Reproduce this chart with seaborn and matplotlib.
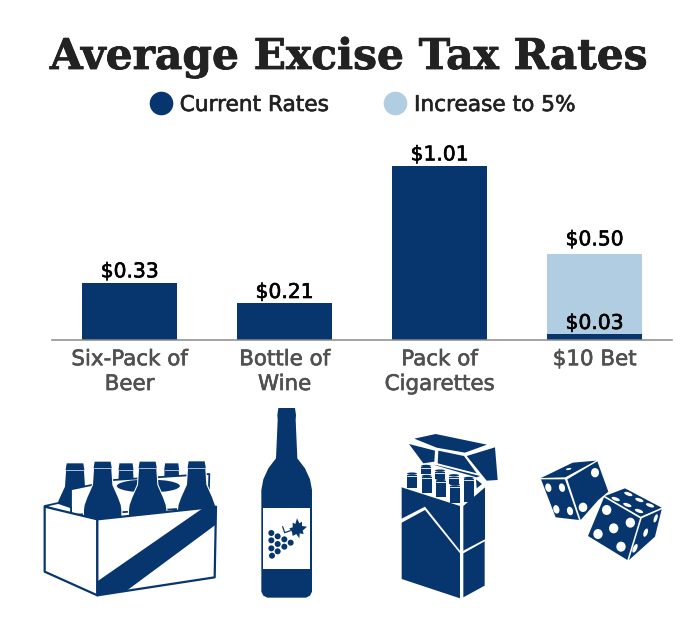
import matplotlib
matplotlib.use("Agg")
import matplotlib.pyplot as plt
import matplotlib.patheffects as pe
from matplotlib.lines import Line2D
from matplotlib.patches import Polygon, Ellipse, Rectangle
import seaborn as sns

categories = ["Six-Pack of\nBeer", "Bottle of\nWine", "Pack of\nCigarettes", "$10 Bet"]
current_rates = [0.33, 0.21, 1.01, 0.03]
increase_to_5 = [0.33, 0.21, 1.01, 0.50]

NAVY = "#07366F"
SKY = "#B0CDE1"

sns.set_theme(style="white")
plt.rcParams["font.family"] = ["DejaVu Sans"]

W, H = 700, 635
fig = plt.figure(figsize=(W / 100, H / 100), dpi=100, facecolor="white")
ax = fig.add_axes([52 / W, (H - 339.5) / H, 620 / W, 189 / H])

bar_style = dict(width=0.617, saturation=1, linewidth=0, edgecolor="none", ax=ax)
sns.barplot(x=categories, y=increase_to_5, color=SKY, **bar_style)
sns.barplot(x=categories, y=current_rates, color=NAVY, **bar_style)

ax.set_xlim(-0.5, 3.5)
ax.set_ylim(0, 1.099)
ax.set_yticks([])
ax.set_ylabel("")
sns.despine(ax=ax, left=True)
ax.spines["bottom"].set_color("#8A8A8A")
ax.spines["bottom"].set_linewidth(1.1)
ax.tick_params(axis="x", length=0, pad=7, labelsize=15.4, labelcolor="#505050")


def heavier(text, color, width=0.45):
    text.set_path_effects([pe.withStroke(linewidth=width, foreground=color)])


for tick in ax.get_xticklabels():
    tick.set_linespacing(1.3)
    heavier(tick, "#505050")

for i, value in enumerate(current_rates):
    label = ax.annotate(f"${value:.2f}", (i, value), xytext=(0, 1), textcoords="offset points",
                        ha="center", va="bottom", fontsize=14.6, color="black")
    heavier(label, "black")
label = ax.annotate(f"${increase_to_5[3]:.2f}", (3, increase_to_5[3]), xytext=(0, 3), textcoords="offset points",
                    ha="center", va="bottom", fontsize=14.6, color="black")
heavier(label, "black")

title = fig.text(349 / W, 1 - 69 / H, "Average Excise Tax Rates", ha="center", va="baseline",
                 fontsize=30.5, fontweight="bold", color="#222222", family="DejaVu Serif")
heavier(title, "#222222", 0.6)

handles = [Line2D([], [], marker="o", ls="", ms=16, color=NAVY, label="Current Rates"),
           Line2D([], [], marker="o", ls="", ms=16, color=SKY, label="Increase to 5%")]
legend = fig.legend(handles=handles, ncols=2, frameon=False, loc="center", bbox_to_anchor=(363.5 / W, 1 - 105 / H),
                    fontsize=15.6, labelcolor="#222222", handlelength=0.9, handletextpad=0.42, columnspacing=2.6,
                    borderpad=0)
for text in legend.get_texts():
    heavier(text, "#222222")

# Overlay in pixel coordinates for the illustrations under the chart
art = fig.add_axes([0, 0, 1, 1], zorder=5)
art.set_xlim(0, W)
art.set_ylim(H, 0)
art.axis("off")
art.patch.set_alpha(0)


def left_art(pts):
    return [(30 + x / 3, 420 + y / 3) for x, y in pts]


def right_art(pts):
    return [(380 + x / 3, 420 + y / 3) for x, y in pts]


def poly(pts, fc=NAVY, ec="none", lw=0, z=1):
    art.add_patch(Polygon(pts, closed=True, fc=fc, ec=ec, lw=lw, zorder=z, joinstyle="round"))


def bottle(cx, top, half, base, z, halo=False):
    s = half / 56
    h = base - top
    outline = [(-24, 0), (24, 0), (27, 18), (26, 24), (29, 70), (46, 108), (54, 130), (56, 145), (56, h),
               (-56, h), (-56, 145), (-54, 130), (-46, 108), (-29, 70), (-26, 24), (-27, 18)]
    pts = left_art([(cx + x * s, top + y) for x, y in outline])
    if halo:
        poly(pts, ec="white", lw=1.6, z=z)
    poly(pts, z=z)
    art.plot(*zip(*left_art([(cx - 26 * s, top + 20), (cx + 26 * s, top + 20)])), color="#C8D6E6", lw=0.6, zorder=z + 0.1)


# Six-pack: rear bottles, carrier handle, front bottles, then the box
for cx, half in ((135, 58), (288, 46), (425, 46)):
    bottle(cx, 130, half, 270, 1)
poly(left_art([(123, 208), (190, 194), (250, 180), (538, 162), (535, 262), (123, 285)]), fc="white", ec=NAVY, lw=1.3, z=2)
poly(left_art([(44, 258), (85, 249), (123, 262), (123, 285)]), fc="white", ec=NAVY, lw=1.3, z=2)
art.add_patch(Ellipse(left_art([(355, 198)])[0], 63, 13, fc=NAVY, ec="none", zorder=3))
for cx, top in ((218, 125), (353, 125), (500, 124)):
    bottle(cx, top, 56, 300, 4, halo=True)
poly(left_art([(44, 260), (202, 298), (202, 526), (44, 455)]), fc="white", ec=NAVY, lw=1.6, z=5)
poly(left_art([(202, 298), (558, 260), (554, 472), (202, 526)]), fc="white", ec=NAVY, lw=1.6, z=5)
poly(left_art([(202, 484), (515, 267), (558, 258), (556, 315), (290, 512), (202, 526)]), z=6)

# Wine bottle with its label and grape sprig
wine = [(745, -36), (795, -36), (798, -15), (797, 0), (802, 115), (825, 145), (840, 178), (846, 210), (846, 515),
        (840, 527), (828, 533), (712, 533), (700, 527), (694, 515), (694, 210), (700, 178), (715, 145), (738, 115),
        (743, 0), (742, -15)]
poly(left_art(wine))
(x0, y0), (x1, y1) = left_art([(699, 263), (841, 447)])
art.add_patch(Rectangle((x0, y0), x1 - x0, y1 - y0, fc="white", ec="none", zorder=2))
grapes = [(724, 339), (724, 361), (743, 349), (763, 358), (782, 368), (743, 372), (724, 385), (763, 380), (743, 394),
          (726, 407)]
for gx, gy in left_art(grapes):
    art.add_patch(Ellipse((gx, gy), 6, 6, fc=NAVY, ec="none", zorder=3))
leaf = [(82, 55), (92, 52), (92, 38), (100, 42), (105, 25), (112, 40), (120, 35), (120, 48), (135, 50), (122, 62),
        (125, 72), (113, 70), (112, 85), (103, 72), (92, 78), (90, 66)]
poly([(262 + x / 3, 510 + y / 3) for x, y in leaf], z=3)
stem = [(62, 50), (68, 68), (85, 62)]
art.plot([262 + x / 3 for x, _ in stem], [510 + y / 3 for _, y in stem], color=NAVY, lw=0.9, zorder=3)

# Cigarette pack: body panels, cigarettes, open lid
for panel in (
    [(65, 202), (240, 258), (240, 392), (135, 260), (65, 296)],
    [(65, 308), (135, 270), (240, 400), (240, 535), (65, 477)],
    [(250, 258), (315, 202), (315, 358), (250, 392)],
    [(250, 400), (314, 364), (314, 497), (250, 532)],
):
    poly(right_art(panel))
for left, top, bot in ((81, 165, 205), (125, 172, 218), (167, 184, 230), (210, 198, 250), (251, 178, 246),
                       (123, 142, 162), (165, 156, 178), (207, 170, 192)):
    poly(right_art([(left, top), (left + 30, top), (left + 30, bot), (left, bot)]))
    cap = right_art([(left + 15, top - 4)])[0]
    art.add_patch(Ellipse(cap, 10, 2.4, fc=NAVY, ec="none", zorder=1))
    art.plot(*zip(*right_art([(left, top + 3), (left + 30, top + 3)])), color="white", lw=0.6, zorder=1.1)
poly(right_art([(288, 178), (306, 192), (290, 205)]))
for lid in (
    [(103, 56), (167, 42), (321, 74), (255, 98), (170, 83)],
    [(87, 72), (165, 92), (163, 125), (130, 130)],
    [(175, 92), (252, 108), (290, 160), (173, 130)],
    [(260, 108), (345, 82), (353, 180), (320, 182)],
    [(160, 134), (172, 136), (300, 168), (290, 172)],
):
    poly(right_art(lid))

# Pair of dice
for face in (
    [(483, 174), (578, 128), (648, 122), (556, 172)],
    [(483, 178), (555, 178), (597, 300), (527, 292)],
    [(562, 178), (652, 124), (685, 215), (655, 240), (602, 300)],
):
    poly(right_art(face), z=2)
poly(right_art([(668, 230), (735, 202), (850, 263), (828, 352), (745, 425), (618, 350)]), fc="white", z=2.5)
for face in (
    [(675, 228), (735, 205), (845, 263), (782, 290)],
    [(672, 232), (780, 295), (742, 420), (624, 348)],
    [(785, 295), (845, 268), (825, 350), (747, 420)],
):
    poly(right_art(face), z=3)
pip_x = [505, 546, 529, 570, 645, 609, 566, 680, 751, 701, 654, 723, 827, 797, 765, 745, 707, 778, 742, 810, 777]
pip_y = [203, 203, 268, 273, 158, 262, 147, 270, 308, 325, 342, 380, 295, 338, 385, 222, 237, 240, 255, 256, 273]
pip_rx = [9, 9, 9, 9, 12, 13, 8, 14, 14, 14, 14, 14, 5, 6, 6, 13, 13, 13, 13, 13, 13]
pip_ry = [13, 13, 13, 13, 14, 14, 3, 15, 15, 15, 15, 15, 13, 13, 14, 5, 5, 5, 5, 5, 5]
pip_tilt = [-15, -15, -15, -15, 0, 0, -10, 0, 0, 0, 0, 0, 20, 20, 25, 20, 20, 20, 20, 20, 20]
for px, py, rx, ry, tilt in zip(pip_x, pip_y, pip_rx, pip_ry, pip_tilt):
    centre = right_art([(px, py)])[0]
    art.add_patch(Ellipse(centre, rx * 2 / 3, ry * 2 / 3, angle=tilt, fc="white", ec="none", zorder=4))

fig.savefig("out.png", dpi=100, facecolor="white")
